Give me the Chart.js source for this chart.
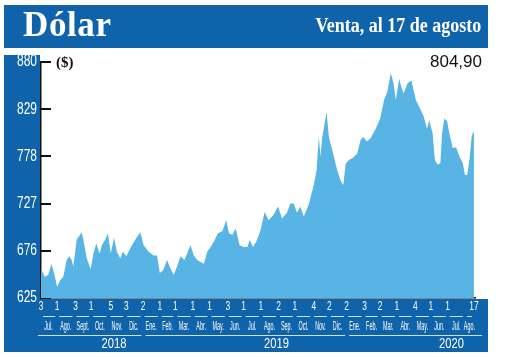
<!DOCTYPE html>
<html>
<head>
<meta charset="utf-8">
<script src="https://cdn.jsdelivr.net/npm/chart.js@4/dist/chart.umd.min.js"></script>
<style>
  html, body { margin: 0; padding: 0; background: #ffffff; }
  #wrap { position: relative; width: 520px; height: 357px; overflow: hidden; }
  .blue { position: absolute; background: #0f63ab; }
  #hdr { left: 4px; top: 5px; width: 484px; height: 43px; }
  #strip { left: 4px; top: 55px; width: 36px; height: 297px; }
  #band { left: 4px; top: 299px; width: 484px; height: 53px; }
  #title { position: absolute; left: 23px; top: 5px; font: bold 35px "Liberation Serif", serif; letter-spacing: 0.6px; color: #fff; line-height: 40px; }
  #sub { position: absolute; right: 39px; top: 12px; font: bold 20px "Liberation Serif", serif; color: #fff; line-height: 26px; transform: scaleX(0.9); transform-origin: right center; white-space: nowrap; }
  #unit { position: absolute; left: 56px; top: 53px; font: bold 15px "Liberation Serif", serif; color: #111; line-height: 18px; }
  #last { position: absolute; right: 38px; top: 52px; font: 17px "Liberation Sans", sans-serif; color: #111; line-height: 20px; }
  canvas { position: absolute; left: 0; top: 0; }
</style>
</head>
<body>
<div id="wrap">
  <div class="blue" id="hdr"></div>
  <div class="blue" id="strip"></div>
  <div class="blue" id="band"></div>
  <canvas id="c" width="520" height="357"></canvas>
  <div id="title">Dólar</div>
  <div id="sub">Venta, al 17 de agosto</div>
  <div id="unit">($)</div>
  <div id="last">804,90</div>
</div>
<script>
// Days counted from 2018-07-01
const dayOffsets = [2,9,15,21,27,31,36,42,48,53,57,60,66,75,78,84,91,96,101,107,111,117,122,127,133,138,144,149,155,159,165,174,180,186,195,204,210,215,221,228,234,240,246,252,259,264,270,276,282,288,294,300,306,312,319,327,330,334,339,345,351,358,365,372,376,382,388,395,403,410,419,427,434,443,449,455,461,467,473,482,487,491,496,500,503,506,514,518,527,533,539,544,548,554,560,569,575,580,586,593,602,610,617,623,629,634,638,644,648,652,659,666,674,683,688,694,698,704,708,713,718,721,725,730,734,740,746,752,758,762,766,770,774,776,778];
const values = [657,648,650,662,648,637,644,648,666,670,666,659,688,696,688,668,656,673,684,673,682,688,695,673,690,675,668,675,670,675,682,691,696,682,675,671,671,652,655,666,657,650,659,670,666,673,682,671,666,664,662,675,680,686,695,697,702,709,695,693,700,682,680,680,688,680,686,697,718,709,715,724,711,717,727,727,717,724,713,726,738,747,763,799,778,798,826,799,778,763,752,747,770,774,776,781,796,799,794,798,808,819,839,848,868,857,839,862,853,846,857,860,839,828,821,808,817,803,774,769,771,803,819,816,803,787,788,778,771,758,758,774,799,803,804.9];

// Axis labels
const yTicks = [625, 676, 727, 778, 829, 880];
const tickDays = [2,31,64,92,127,155,185,215,243,274,304,337,365,396,428,457,491,519,550,582,610,640,673,701,731,778];
const tickLabels = ["3","1","3","1","5","3","2","1","1","1","1","3","1","1","2","1","4","2","2","3","2","1","4","1","1","17"];
const monthFirst = [0,31,62,92,123,153,184,215,243,274,304,335,365,396,427,457,488,518,549,580,609,640,670,701,731,762,778];
const monthNames = ["Jul.","Ago.","Sept.","Oct.","Nov.","Dic.","Ene.","Feb.","Mar.","Abr.","May.","Jun.","Jul.","Ago.","Sep.","Oct.","Nov.","Dic.","Ene.","Feb.","Mar.","Abr.","May.","Jun.","Jul.","Ago."];
const yearStarts = [184, 549];
const yearLabelDays = [133, 424, 738];
const yearNames = ["2018", "2019", "2020"];

const points = dayOffsets.map((d, i) => ({ x: d, y: values[i] }));
const monthCenters = monthNames.map((_, i) => (monthFirst[i] + monthFirst[i + 1]) / 2);

const XMIN = 2, XMAX = 780;
const sans = '"Liberation Sans", Arial, sans-serif';
const LIGHT = 'rgba(225,238,250,0.9)';

// Condensed tick labels: the scales' own label items, drawn with a horizontal squeeze
const condense = { y: 0.75, x: 0.7, xMonth: 0.45, xYear: 0.8 };
Chart.LinearScale.prototype.drawLabels = function (chartArea) {
  const ctx = this.ctx;
  const k = condense[this.id] || 1;
  const items = this.getLabelItems(chartArea);
  for (const item of items) {
    const o = item.options;
    ctx.save();
    ctx.translate(o.translation[0], o.translation[1]);
    ctx.scale(k, 1);
    ctx.font = item.font.string;
    ctx.fillStyle = o.color;
    ctx.textAlign = o.textAlign;
    ctx.textBaseline = o.textBaseline;
    const lines = Array.isArray(item.label) ? item.label : [item.label];
    lines.forEach((t, j) => ctx.fillText(t, 0, item.textOffset + j * item.font.lineHeight));
    ctx.restore();
  }
};

const decor = {
  id: 'decor',
  afterDraw(chart) {
    const ctx = chart.ctx;
    const sx = chart.scales.x;
    const yU = chart.scales.xMonth.top + 2.5;
    const yY = chart.scales.xYear.top + 1.5;
    ctx.save();
    ctx.strokeStyle = LIGHT;
    ctx.lineWidth = 1;
    ctx.beginPath();
    for (let i = 0; i < monthNames.length; i++) {
      const a = sx.getPixelForValue(Math.max(monthFirst[i], XMIN)) + 2;
      const b = sx.getPixelForValue(Math.min(monthFirst[i + 1], XMAX)) - 2;
      ctx.moveTo(a, yU); ctx.lineTo(b, yU);
    }
    const bounds = [XMIN].concat(yearStarts).concat([XMAX]);
    for (let i = 0; i < bounds.length - 1; i++) {
      const a = sx.getPixelForValue(bounds[i]) + (i === 0 ? -3 : 3);
      const b = sx.getPixelForValue(bounds[i + 1]) + (i === bounds.length - 2 ? 7 : -1);
      ctx.moveTo(a, yY); ctx.lineTo(b, yY);
    }
    ctx.stroke();
    ctx.restore();
  }
};

new Chart(document.getElementById('c'), {
  type: 'line',
  data: {
    datasets: [{
      data: points,
      fill: 'start',
      backgroundColor: '#58b4e4',
      borderWidth: 0,
      pointRadius: 0,
      tension: 0
    }]
  },
  options: {
    responsive: false,
    animation: false,
    devicePixelRatio: 1,
    layout: { padding: { left: 4, top: 62, right: 45, bottom: 5 } },
    plugins: { legend: { display: false }, tooltip: { enabled: false } },
    scales: {
      y: {
        type: 'linear', position: 'left', min: 625, max: 880,
        afterBuildTicks: s => { s.ticks = yTicks.map(v => ({ value: v })); },
        afterFit: s => { s.width = 37; },
        ticks: { color: '#ffffff', font: { family: sans, size: 16 }, padding: 14 },
        grid: { drawOnChartArea: false, drawTicks: true, tickLength: -10, color: '#111', lineWidth: 2 },
        border: { display: true, color: '#111', width: 1.5 }
      },
      x: {
        type: 'linear', position: 'bottom', min: XMIN, max: XMAX, weight: 0,
        afterBuildTicks: s => { s.ticks = tickDays.map(v => ({ value: v })); },
        afterFit: s => { s.height = 16; },
        ticks: { color: '#ffffff', font: { family: sans, size: 12 }, padding: 1, autoSkip: false, maxRotation: 0, minRotation: 0,
                 callback: (v, i) => tickLabels[i] },
        grid: { drawOnChartArea: false, drawTicks: false },
        border: { display: true, color: '#111', width: 1.5 }
      },
      xMonth: {
        type: 'linear', position: 'bottom', min: XMIN, max: XMAX, weight: 1,
        afterBuildTicks: s => { s.ticks = monthCenters.map(v => ({ value: v })); },
        afterFit: s => { s.height = 20; },
        ticks: { color: '#ffffff', font: { family: sans, size: 12 }, padding: 5, autoSkip: false, maxRotation: 0, minRotation: 0,
                 callback: (v, i) => monthNames[i] },
        grid: { display: false, drawTicks: false },
        border: { display: false }
      },
      xYear: {
        type: 'linear', position: 'bottom', min: XMIN, max: XMAX, weight: 2,
        afterBuildTicks: s => { s.ticks = yearLabelDays.map(v => ({ value: v })); },
        afterFit: s => { s.height = 18; },
        ticks: { color: '#ffffff', font: { family: sans, size: 14 }, padding: 2, autoSkip: false, maxRotation: 0, minRotation: 0,
                 callback: (v, i) => yearNames[i] },
        grid: { display: false, drawTicks: false },
        border: { display: false }
      }
    }
  },
  plugins: [decor]
});
</script>
</body>
</html>
